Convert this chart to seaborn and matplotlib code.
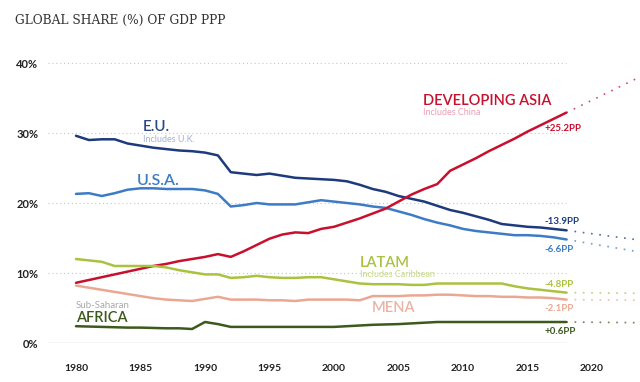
import numpy as np
import pandas as pd
import matplotlib.pyplot as plt
import seaborn as sns

years = list(range(1980, 2019))

eu = [29.6, 29.0, 29.1, 29.1, 28.5, 28.2, 27.9, 27.7, 27.5, 27.4, 27.2, 26.8, 24.4,
      24.2, 24.0, 24.2, 23.9, 23.6, 23.5, 23.4, 23.3, 23.1, 22.6, 22.0, 21.6, 21.0,
      20.6, 20.2, 19.6, 19.0, 18.6, 18.1, 17.6, 17.0, 16.8, 16.6, 16.5, 16.3, 16.1]
usa = [21.3, 21.4, 21.0, 21.4, 21.9, 22.1, 22.1, 22.0, 22.0, 22.0, 21.8, 21.3, 19.5,
       19.7, 20.0, 19.8, 19.8, 19.8, 20.1, 20.4, 20.2, 20.0, 19.8, 19.5, 19.3, 18.8,
       18.3, 17.7, 17.2, 16.8, 16.3, 16.0, 15.8, 15.6, 15.4, 15.4, 15.3, 15.1, 14.8]
dev_asia = [8.6, 9.0, 9.4, 9.8, 10.2, 10.6, 11.0, 11.3, 11.7, 12.0, 12.3, 12.7, 12.3,
            13.1, 14.0, 14.9, 15.5, 15.8, 15.7, 16.3, 16.6, 17.2, 17.8, 18.5, 19.2, 20.2,
            21.2, 22.0, 22.7, 24.6, 25.5, 26.4, 27.4, 28.3, 29.2, 30.2, 31.1, 32.0, 32.9]
latam = [12.0, 11.8, 11.6, 11.0, 11.0, 11.0, 11.0, 10.8, 10.4, 10.1, 9.8, 9.8, 9.3,
         9.4, 9.6, 9.4, 9.3, 9.3, 9.4, 9.4, 9.1, 8.8, 8.5, 8.4, 8.4, 8.4, 8.3, 8.3,
         8.5, 8.5, 8.5, 8.5, 8.5, 8.5, 8.1, 7.8, 7.6, 7.4, 7.2]
mena = [8.2, 7.9, 7.6, 7.3, 7.0, 6.7, 6.4, 6.2, 6.1, 6.0, 6.3, 6.6, 6.2, 6.2, 6.2,
        6.1, 6.1, 6.0, 6.2, 6.2, 6.2, 6.2, 6.1, 6.7, 6.7, 6.7, 6.8, 6.8, 6.9, 6.9,
        6.8, 6.7, 6.7, 6.6, 6.6, 6.5, 6.5, 6.4, 6.2]
africa = [2.4, 2.35, 2.3, 2.25, 2.2, 2.2, 2.15, 2.1, 2.1, 2.0, 3.0, 2.7, 2.3, 2.3,
          2.3, 2.3, 2.3, 2.3, 2.3, 2.3, 2.3, 2.4, 2.5, 2.6, 2.65, 2.7, 2.8, 2.9, 3.0,
          3.0, 3.0, 3.0, 3.0, 3.0, 3.0, 3.0, 3.0, 3.0, 3.0]

regions = ["E.U.", "U.S.A.", "Developing Asia", "LATAM", "MENA", "Africa"]
changes = ["-13.9PP", "-6.6PP", "+25.2PP", "-4.8PP", "-2.1PP", "+0.6PP"]
proj_end = [14.7, 13.0, 38.0, 7.1, 6.1, 2.9]
proj_year = 2023.7

colors = {"E.U.": "#1d3a7c", "U.S.A.": "#3d7cc4", "Developing Asia": "#c8102e",
          "LATAM": "#a9c23f", "MENA": "#eaa893", "Africa": "#3c5a1c"}

df = pd.DataFrame({"year": years, "E.U.": eu, "U.S.A.": usa, "Developing Asia": dev_asia,
                   "LATAM": latam, "MENA": mena, "Africa": africa})
long = df.melt(id_vars="year", var_name="region", value_name="share")

sns.set_style("white")
plt.rcParams["font.family"] = ["Lato", "DejaVu Sans"]

fig = plt.figure(figsize=(6.4, 3.82), dpi=100)
ax = fig.add_axes([48 / 640, 39 / 382, 592 / 640, 294 / 382])

x0 = 1977.83
# grid drawn by hand so it stops at the last data year
for v in [10, 20, 30, 40]:
    ax.hlines(v, x0, 2018, colors="#c8c8c8", linestyles=(0, (1, 2.5)), linewidth=0.8, zorder=0)
ax.hlines(0, x0, 2018, colors="#d0d0d0", linewidth=1.0, zorder=0)

sns.lineplot(data=long, x="year", y="share", hue="region", palette=colors,
             linewidth=1.8, legend=False, ax=ax, zorder=3)

# dotted projections
for r, pe in zip(regions, proj_end):
    last = df[r].iloc[-1]
    ax.plot([2018, proj_year], [last, pe], color=colors[r], alpha=0.75,
            linestyle=(0, (1, 4)), linewidth=1.2, zorder=2)

# end labels
label_y = [17.3, 13.4, 30.6, 8.4, 4.9, 1.7]
for r, c, ly in zip(regions, changes, label_y):
    ax.text(2016.3, ly, c, color=colors[r], fontsize=7, fontweight="bold",
            ha="left", va="center")

# series names
name_kw = dict(fontsize=10.5, fontweight="semibold", ha="left", va="center")
note_kw = dict(fontsize=6.5, ha="left", va="center")
ax.text(1985.2, 30.9, "E.U.", color="#2a4888", **{**name_kw, "fontsize": 11})
ax.text(1985.2, 29.1, "Includes U.K.", color="#a4b2d0", **note_kw)
ax.text(1984.7, 23.1, "U.S.A.", color="#3d7cc4", **{**name_kw, "fontsize": 11.5})
ax.text(2006.9, 34.6, "DEVELOPING ASIA", color="#c8102e", **name_kw)
ax.text(2006.9, 32.9, "Includes China", color="#eaa0b4", **note_kw)
ax.text(2002.0, 11.4, "LATAM", color="#a9c23f", **name_kw)
ax.text(2002.0, 9.8, "Includes Caribbean", color="#c9d88c", **note_kw)
ax.text(2002.9, 5.0, "MENA", color="#eab3a2", **name_kw)
ax.text(1980.0, 5.4, "Sub-Saharan", color="#a8a8a8", **{**note_kw, "fontsize": 7})
ax.text(1980.0, 3.6, "AFRICA", color="#3c5a1c", **name_kw)

ax.set_xlim(x0, 2023.72)
ax.set_ylim(0, 42)
ax.set_xticks([1980, 1985, 1990, 1995, 2000, 2005, 2010, 2015, 2020])
ax.set_yticks([0, 10, 20, 30, 40])
ax.set_yticklabels([f"{v}%" for v in [0, 10, 20, 30, 40]])
ax.tick_params(axis="x", length=0, pad=15, labelsize=7.5, labelcolor="#222222")
ax.tick_params(axis="y", length=0, pad=7, labelsize=8, labelcolor="#222222")
for lab in ax.get_xticklabels() + ax.get_yticklabels():
    lab.set_fontweight("bold")
ax.set_xlabel("")
ax.set_ylabel("")
sns.despine(ax=ax, left=True, bottom=True)

fig.text(15 / 640, 1 - 20 / 382, "GLOBAL SHARE (%) OF GDP PPP",
         family="DejaVu Serif", fontsize=8.8, color="#333333", va="center", ha="left")

fig.savefig("out.png", dpi=100)
